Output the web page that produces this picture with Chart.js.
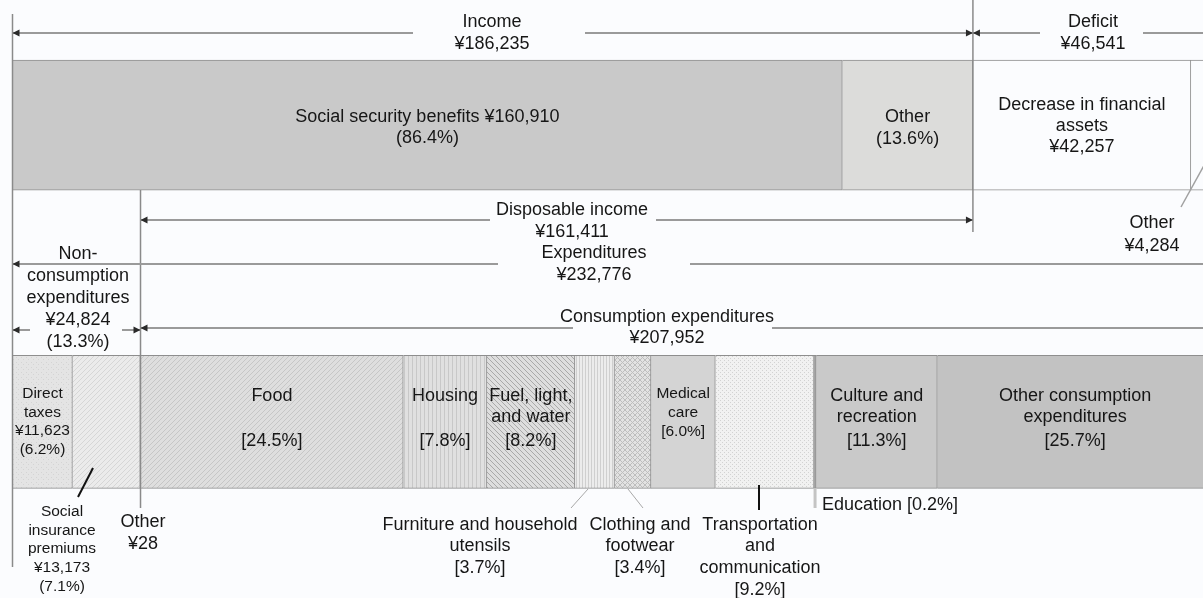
<!DOCTYPE html>
<html>
<head>
<meta charset="utf-8">
<script src="https://cdn.jsdelivr.net/npm/chart.js@4.4.1/dist/chart.umd.min.js"></script>
<style>
  html, body { margin: 0; padding: 0; background: #fbfcfe; }
  #wrap { width: 1203px; height: 598px; }
</style>
</head>
<body>
<div id="wrap"><canvas id="c" width="1203" height="598"></canvas></div>
<script>
// Monthly household budget: income side (top bar) and expenditure side (bottom bar), yen
const rowLabels = ['Income', '', 'Expenditures'];

const incomeNames = ['Social security benefits', 'Other', 'Decrease in financial assets', 'Other'];
const incomeValues = [160910, 25325, 42257, 4284];

const nonConsumptionNames = ['Direct taxes', 'Social insurance premiums', 'Other'];
const nonConsumptionValues = [11623, 13173, 28];

const consumptionNames = ['Food', 'Housing', 'Fuel, light, and water', 'Furniture and household utensils',
  'Clothing and footwear', 'Medical care', 'Transportation and communication', 'Education',
  'Culture and recreation', 'Other consumption expenditures'];
const consumptionShares = [24.5, 7.8, 8.2, 3.7, 3.4, 6.0, 9.2, 0.2, 11.3, 25.7];

const incomeTotal = 186235;
const deficitTotal = 46541;
const disposableIncome = 161411;
const expenditureTotal = 232776;
const nonConsumptionTotal = 24824;
const consumptionTotal = 207952;

const consumptionValues = consumptionShares.map(p => p / 100 * consumptionTotal);

const BG = '#fbfcfe';
const FONT = '"Liberation Sans", Arial, sans-serif';
const BIG = 18;
const SMALL = 15.5;

function pattern(kind, bg, fg, s) {
  const c = document.createElement('canvas');
  c.width = s; c.height = s;
  const g = c.getContext('2d');
  g.fillStyle = bg; g.fillRect(0, 0, s, s);
  g.strokeStyle = fg; g.fillStyle = fg; g.lineWidth = 1;
  g.beginPath();
  if (kind === 'up' || kind === 'cross') {
    g.moveTo(0, s); g.lineTo(s, 0);
    g.moveTo(-1, 1); g.lineTo(1, -1);
    g.moveTo(s - 1, s + 1); g.lineTo(s + 1, s - 1);
  }
  if (kind === 'down' || kind === 'cross') {
    g.moveTo(0, 0); g.lineTo(s, s);
    g.moveTo(s - 1, -1); g.lineTo(s + 1, 1);
    g.moveTo(-1, s - 1); g.lineTo(1, s + 1);
  }
  g.stroke();
  if (kind === 'vert') { g.fillRect(0, 0, 1, s); }
  if (kind === 'dots') { g.fillRect(0, 0, 1, 1); g.fillRect(s / 2, s / 2, 1, 1); }
  if (kind === 'speck') { g.fillRect(1, 2, 1, 1); g.fillRect(s - 2, s - 1, 1, 1); }
  return g.createPattern(c, 'repeat');
}

const incomeFills = ['#c9c9c9', '#dcdcda', BG, BG];
const nonConsumptionFills = [
  pattern('speck', '#e4e4e4', '#d4d4d4', 5),
  pattern('up', '#ebebeb', '#d6d6d6', 5),
  '#8a8a8a'
];
const consumptionFills = [
  pattern('up', '#dedede', '#c6c6c6', 5),
  pattern('vert', '#e0e0e0', '#c8c8c8', 4),
  pattern('down', '#dedede', '#a9a9a9', 5),
  pattern('vert', '#ececec', '#cfcfcf', 3),
  pattern('cross', '#e2e2e2', '#bdbdbd', 5),
  '#d4d4d4',
  pattern('dots', '#f1f1f1', '#d2d2d2', 4),
  '#a8a8a8',
  '#c9c9c9',
  '#c2c2c2'
];

const datasets = [];
incomeValues.forEach((v, i) => datasets.push({
  label: incomeNames[i], data: [v, null, null],
  backgroundColor: incomeFills[i], borderColor: '#8e8e8e', borderWidth: 1, barThickness: 130
}));
nonConsumptionValues.forEach((v, i) => datasets.push({
  label: nonConsumptionNames[i], data: [null, null, v],
  backgroundColor: nonConsumptionFills[i], borderColor: '#8e8e8e', borderWidth: i === 2 ? 0 : 1, barThickness: 133
}));
consumptionValues.forEach((v, i) => datasets.push({
  label: consumptionNames[i], data: [null, null, v],
  backgroundColor: consumptionFills[i], borderColor: '#8e8e8e', borderWidth: 1, barThickness: 133
}));

const yen = v => '¥' + v.toLocaleString('en-US');

function lines(ctx, arr, cx, ys, size, align) {
  ctx.font = size + 'px ' + FONT;
  ctx.fillStyle = '#161616';
  ctx.textAlign = align || 'center';
  ctx.textBaseline = 'middle';
  arr.forEach((t, i) => ctx.fillText(t, cx, ys[i]));
}
function clearBox(ctx, x0, x1, y, h) {
  ctx.fillStyle = BG;
  ctx.fillRect(x0, y - h / 2, x1 - x0, h);
}
function head(ctx, x, y, dir) {
  ctx.fillStyle = '#2a2a2a';
  ctx.beginPath();
  ctx.moveTo(x, y);
  ctx.lineTo(x - dir * 7, y - 3.5);
  ctx.lineTo(x - dir * 7, y + 3.5);
  ctx.closePath();
  ctx.fill();
}
function arrow(ctx, x0, x1, y, gap) {
  ctx.strokeStyle = '#9a9a9a';
  ctx.lineWidth = 2;
  ctx.beginPath();
  ctx.moveTo(x0, y); ctx.lineTo(x1, y);
  ctx.stroke();
  if (gap) clearBox(ctx, gap[0], gap[1], y, 6);
  head(ctx, x0, y, -1);
  head(ctx, x1, y, 1);
}
function seg(ctx, x0, y0, x1, y1, color, w) {
  ctx.strokeStyle = color; ctx.lineWidth = w;
  ctx.beginPath(); ctx.moveTo(x0, y0); ctx.lineTo(x1, y1); ctx.stroke();
}

const annotations = {
  id: 'budgetAnnotations',
  beforeDraw(chart) {
    const ctx = chart.ctx;
    ctx.save();
    ctx.fillStyle = BG;
    ctx.fillRect(0, 0, chart.width, chart.height);
    ctx.restore();
  },
  afterDatasetsDraw(chart) {
    const ctx = chart.ctx;
    const px = v => chart.scales.x.getPixelForValue(v);
    const x0 = px(0);
    const xNon = px(nonConsumptionTotal);
    const xInc = px(incomeTotal);
    const xEnd = px(expenditureTotal);
    const nInc = incomeValues.length, nNon = nonConsumptionValues.length;
    const segCenter = (di) => {
      const el = chart.getDatasetMeta(di).data[di < nInc ? 0 : 2];
      return (el.x + el.base) / 2;
    };
    const share = v => (v / incomeTotal * 100).toFixed(1) + '%';
    ctx.save();

    // structural vertical guides
    seg(ctx, x0, 14, x0, 567, '#8a8a8a', 1.5);
    seg(ctx, xNon, 190, xNon, 508, '#8a8a8a', 1.5);
    seg(ctx, xInc, 0, xInc, 232, '#8a8a8a', 1.5);

    // span arrows with their labels
    arrow(ctx, x0, xInc, 33, [413, 585]);
    lines(ctx, ['Income', yen(incomeTotal)], 492, [22, 44], BIG);
    arrow(ctx, xInc, xEnd, 33, [1040, 1143]);
    lines(ctx, ['Deficit', yen(deficitTotal)], 1093, [22, 44], BIG);

    arrow(ctx, xNon, xInc, 220, [490, 656]);
    lines(ctx, ['Disposable income', yen(disposableIncome)], 572, [210, 232], BIG);

    arrow(ctx, x0, xEnd, 264, [498, 690]);
    lines(ctx, ['Expenditures', yen(expenditureTotal)], 594, [253, 275], BIG);

    arrow(ctx, x0, xNon, 330, [30, 122]);
    lines(ctx, ['Non-', 'consumption', 'expenditures', yen(nonConsumptionTotal), '(' + share(nonConsumptionTotal) + ')'],
      78, [254, 276, 298, 320, 342], BIG);

    arrow(ctx, xNon, xEnd, 328, [573, 772]);
    lines(ctx, ['Consumption expenditures', yen(consumptionTotal)], 667, [317, 338], BIG);

    // income bar labels
    lines(ctx, ['Social security benefits ' + yen(incomeValues[0]), '(' + share(incomeValues[0]) + ')'], segCenter(0), [117, 138], BIG);
    lines(ctx, ['Other', '(' + share(incomeValues[1]) + ')'], segCenter(1), [117, 139], BIG);
    lines(ctx, ['Decrease in financial', 'assets', yen(incomeValues[2])], segCenter(2), [105, 126, 147], BIG);
    seg(ctx, 1207, 160, 1181, 207, '#a0a0a0', 1.5);
    lines(ctx, ['Other', yen(incomeValues[3])], 1152, [223, 246], BIG);

    // non-consumption labels
    lines(ctx, ['Direct', 'taxes', yen(nonConsumptionValues[0]), '(' + share(nonConsumptionValues[0]) + ')'],
      segCenter(nInc), [394, 413, 431, 450], SMALL);
    seg(ctx, 93, 468, 78, 497, '#111', 2);
    lines(ctx, ['Social', 'insurance', 'premiums', yen(nonConsumptionValues[1]), '(' + share(nonConsumptionValues[1]) + ')'],
      62, [512, 531, 549, 568, 587], SMALL);
    lines(ctx, ['Other', yen(nonConsumptionValues[2])], 143, [522, 544], BIG);

    // consumption labels
    const c0 = nInc + nNon;
    const pct = i => '[' + consumptionShares[i].toFixed(1) + '%]';
    lines(ctx, ['Food', '', pct(0)], segCenter(c0), [396, 417, 441], BIG);
    lines(ctx, ['Housing', '', pct(1)], segCenter(c0 + 1), [396, 417, 441], BIG);
    lines(ctx, ['Fuel, light,', 'and water', pct(2)], segCenter(c0 + 2), [396, 417, 441], BIG);
    lines(ctx, ['Medical', 'care', pct(5)], segCenter(c0 + 5), [394, 413, 432], SMALL);
    lines(ctx, ['Culture and', 'recreation', pct(8)], segCenter(c0 + 8), [396, 417, 441], BIG);
    lines(ctx, ['Other consumption', 'expenditures', pct(9)], segCenter(c0 + 9), [396, 417, 441], BIG);

    // callouts below the bar
    seg(ctx, 588, 489, 571, 508, '#a8a8a8', 1);
    seg(ctx, 628, 489, 643, 508, '#a8a8a8', 1);
    seg(ctx, 759, 485, 759, 510, '#111', 2);
    seg(ctx, segCenter(c0 + 7), 488, segCenter(c0 + 7), 508, '#c4c4c4', 3);
    lines(ctx, ['Furniture and household', 'utensils', pct(3)], 480, [525, 546, 568], BIG);
    lines(ctx, ['Clothing and', 'footwear', pct(4)], 640, [525, 546, 568], BIG);
    lines(ctx, ['Transportation', 'and', 'communication', pct(6)], 760, [525, 546, 568, 590], BIG);
    lines(ctx, ['Education ' + pct(7)], 822, [505], BIG, 'left');

    ctx.restore();
  }
};

new Chart(document.getElementById('c'), {
  type: 'bar',
  data: { labels: rowLabels, datasets },
  options: {
    indexAxis: 'y',
    responsive: false,
    animation: false,
    layout: { padding: { left: 12.5, right: 0, top: 51, bottom: 102 } },
    plugins: { legend: { display: false }, tooltip: { enabled: false } },
    scales: {
      x: { type: 'linear', min: 0, max: 230850, stacked: true, display: false },
      y: { type: 'category', stacked: true, display: false }
    }
  },
  plugins: [annotations]
});
</script>
</body>
</html>
